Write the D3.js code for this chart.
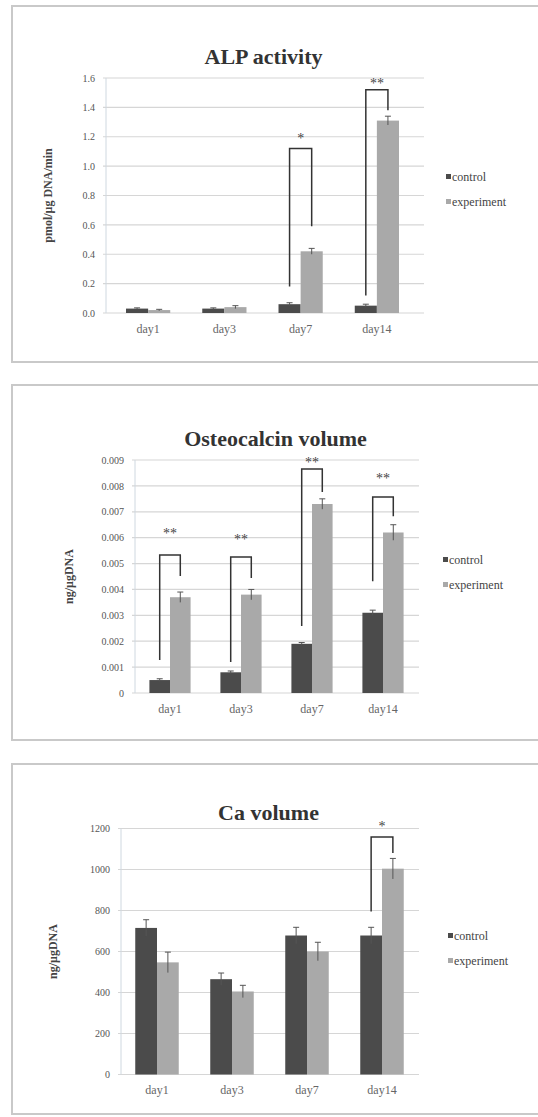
<!DOCTYPE html>
<html>
<head>
<meta charset="utf-8">
<script src="https://cdn.jsdelivr.net/npm/d3@7"></script>
<style>
  body { margin: 0; background: #fff; }
  svg { display: block; }
  text { font-family: "Liberation Serif", "DejaVu Serif", serif; }
</style>
</head>
<body>
<div id="chart"></div>
<script>
const categories = ['day1', 'day3', 'day7', 'day14'];
const series = ['control', 'experiment'];

// ALP activity
const alpControl = [0.03, 0.03, 0.06, 0.05];
const alpExperiment = [0.02, 0.04, 0.42, 1.31];
const alpControlErr = [0.005, 0.005, 0.01, 0.01];
const alpExperimentErr = [0.005, 0.01, 0.02, 0.03];
const alpTicks = [0, 0.2, 0.4, 0.6, 0.8, 1.0, 1.2, 1.4, 1.6];
const alpBrackets = [
  { cat: 'day7', left: 0.18, top: 1.12, right: 0.59, label: '*', labelAt: 1.2 },
  { cat: 'day14', left: 0.12, top: 1.52, right: 1.38, label: '**', labelAt: 1.57 }
];

// Osteocalcin volume
const ocControl = [0.0005, 0.0008, 0.0019, 0.0031];
const ocExperiment = [0.0037, 0.0038, 0.0073, 0.0062];
const ocControlErr = [0.00005, 0.00005, 0.00005, 0.0001];
const ocExperimentErr = [0.0002, 0.0002, 0.0002, 0.0003];
const ocTicks = [0, 0.001, 0.002, 0.003, 0.004, 0.005, 0.006, 0.007, 0.008, 0.009];
const ocBrackets = [
  { cat: 'day1', left: 0.00127, top: 0.00533, right: 0.00452, label: '**', labelAt: 0.0062 },
  { cat: 'day3', left: 0.0012, top: 0.00525, right: 0.00444, label: '**', labelAt: 0.006 },
  { cat: 'day7', left: 0.00259, top: 0.00865, right: 0.00776, label: '**', labelAt: 0.00895 },
  { cat: 'day14', left: 0.00432, top: 0.00757, right: 0.00683, label: '**', labelAt: 0.00835 }
];

// Ca volume
const caControl = [715, 465, 678, 678];
const caExperiment = [547, 405, 600, 1004];
const caControlErr = [40, 30, 40, 40];
const caExperimentErr = [50, 30, 45, 50];
const caTicks = [0, 200, 400, 600, 800, 1000, 1200];
const caBrackets = [
  { cat: 'day14', left: 795, top: 1159, right: 1081, label: '*', labelAt: 1215 }
];

const width = 538;
const height = 1117;
const colors = { control: '#4b4b4b', experiment: '#a9a9a9' };

const svg = d3.select('#chart')
  .append('svg')
  .attr('width', width)
  .attr('height', height);

const panels = [
  {
    title: 'ALP activity', yLabel: 'pmol/μg DNA/min',
    control: alpControl, experiment: alpExperiment,
    controlErr: alpControlErr, experimentErr: alpExperimentErr,
    ticks: alpTicks, fmt: d3.format('.1f'), brackets: alpBrackets,
    box: [6, 362], plot: { left: 103, right: 424, top: 78, bottom: 313 },
    band: [110, 415], titleY: 64, yLabelX: 48, legendX: 446, legendY: 177, catY: 334
  },
  {
    title: 'Osteocalcin volume', yLabel: 'ng/μgDNA',
    control: ocControl, experiment: ocExperiment,
    controlErr: ocControlErr, experimentErr: ocExperimentErr,
    ticks: ocTicks, fmt: d => d === 0 ? '0' : d3.format('.3f')(d), brackets: ocBrackets,
    box: [385, 740], plot: { left: 132, right: 419, top: 460, bottom: 693 },
    band: [134.5, 418.5], titleY: 446, yLabelX: 69, legendX: 443, legendY: 560, catY: 714
  },
  {
    title: 'Ca volume', yLabel: 'ng/μgDNA',
    control: caControl, experiment: caExperiment,
    controlErr: caControlErr, experimentErr: caExperimentErr,
    ticks: caTicks, fmt: d3.format('d'), brackets: caBrackets,
    box: [764, 1114], plot: { left: 118, right: 419, top: 828.5, bottom: 1074.5 },
    band: [119.5, 419.5], titleY: 820, yLabelX: 53, legendX: 448, legendY: 936, catY: 1095
  }
];

function drawPanel(p) {
  const g = svg.append('g');

  // frame around each figure
  g.append('rect')
    .attr('x', 12).attr('y', p.box[0])
    .attr('width', 540).attr('height', p.box[1] - p.box[0])
    .attr('fill', 'none')
    .attr('stroke', '#c9c9c9')
    .attr('stroke-width', 2);

  const y = d3.scaleLinear()
    .domain([0, d3.max(p.ticks)])
    .range([p.plot.bottom, p.plot.top]);

  const x = d3.scaleBand()
    .domain(categories)
    .range(p.band)
    .paddingInner(0.42)
    .paddingOuter(0.21);

  const xs = d3.scaleBand()
    .domain(series)
    .range([0, x.bandwidth()]);

  // grid
  g.append('g')
    .selectAll('line')
    .data(p.ticks)
    .join('line')
      .attr('x1', p.plot.left)
      .attr('x2', p.plot.right)
      .attr('y1', d => y(d))
      .attr('y2', d => y(d))
      .attr('stroke', '#d6d6d6')
      .attr('stroke-width', 1.2);

  g.append('line')
    .attr('x1', p.plot.left + 3).attr('x2', p.plot.left + 3)
    .attr('y1', p.plot.top).attr('y2', p.plot.bottom)
    .attr('stroke', '#cfd8e0');

  // y axis
  g.append('g')
    .attr('transform', `translate(${p.plot.left},0)`)
    .call(d3.axisLeft(y).tickValues(p.ticks).tickFormat(p.fmt).tickSize(0).tickPadding(8))
    .call(a => a.select('.domain').remove())
    .selectAll('text')
      .attr('font-size', 10)
      .attr('fill', '#555');

  // x axis
  g.append('g')
    .attr('transform', `translate(0,${p.catY - 10})`)
    .call(d3.axisBottom(x).tickSize(0).tickPadding(0))
    .call(a => a.select('.domain').remove())
    .selectAll('text')
      .attr('font-size', 12)
      .attr('fill', '#666');

  const rows = categories.map((c, i) => ({
    cat: c,
    values: [
      { key: 'control', v: p.control[i], e: p.controlErr[i] },
      { key: 'experiment', v: p.experiment[i], e: p.experimentErr[i] }
    ]
  }));

  const groups = g.append('g')
    .selectAll('g')
    .data(rows)
    .join('g')
      .attr('transform', d => `translate(${x(d.cat)},0)`);

  groups.selectAll('rect')
    .data(d => d.values)
    .join('rect')
      .attr('x', d => xs(d.key))
      .attr('y', d => y(d.v))
      .attr('width', xs.bandwidth())
      .attr('height', d => y(0) - y(d.v))
      .attr('fill', d => colors[d.key]);

  // error bars
  const eb = groups.selectAll('g.err')
    .data(d => d.values)
    .join('g')
      .attr('class', 'err')
      .attr('stroke', '#555')
      .attr('stroke-width', 1);
  eb.append('line')
    .attr('x1', d => xs(d.key) + xs.bandwidth() / 2)
    .attr('x2', d => xs(d.key) + xs.bandwidth() / 2)
    .attr('y1', d => y(d.v - d.e))
    .attr('y2', d => y(d.v + d.e));
  eb.append('line')
    .attr('x1', d => xs(d.key) + xs.bandwidth() / 2 - 3)
    .attr('x2', d => xs(d.key) + xs.bandwidth() / 2 + 3)
    .attr('y1', d => y(d.v + d.e))
    .attr('y2', d => y(d.v + d.e));

  // significance brackets
  const bk = g.append('g')
    .selectAll('g')
    .data(p.brackets)
    .join('g');
  bk.append('path')
    .attr('fill', 'none')
    .attr('stroke', '#333')
    .attr('stroke-width', 1.5)
    .attr('d', d => {
      const x0 = x(d.cat) + xs('control') + xs.bandwidth() / 2;
      const x1 = x(d.cat) + xs('experiment') + xs.bandwidth() / 2;
      return `M${x0},${y(d.left)}V${y(d.top)}H${x1}V${y(d.right)}`;
    });
  bk.append('text')
    .attr('x', d => x(d.cat) + x.bandwidth() / 2)
    .attr('y', d => y(d.labelAt) + 6)
    .attr('text-anchor', 'middle')
    .attr('font-size', 14)
    .attr('fill', '#444')
    .text(d => d.label);

  // title
  g.append('text')
    .attr('x', (p.plot.left + p.plot.right) / 2)
    .attr('y', p.titleY)
    .attr('text-anchor', 'middle')
    .attr('font-size', 22)
    .attr('font-weight', 'bold')
    .attr('fill', '#333')
    .text(p.title);

  // y label
  g.append('text')
    .attr('transform', `translate(${p.yLabelX},${(p.plot.top + p.plot.bottom) / 2}) rotate(-90)`)
    .attr('text-anchor', 'middle')
    .attr('dy', '0.35em')
    .attr('font-size', 12)
    .attr('font-weight', 'bold')
    .attr('fill', '#444')
    .text(p.yLabel);

  // legend
  const lg = g.append('g')
    .attr('transform', `translate(${p.legendX},${p.legendY})`);
  const items = lg.selectAll('g')
    .data(series)
    .join('g')
      .attr('transform', (d, i) => `translate(0,${i * 25})`);
  items.append('rect')
    .attr('x', 0).attr('y', -3)
    .attr('width', 5).attr('height', 5)
    .attr('fill', d => colors[d]);
  items.append('text')
    .attr('x', 6)
    .attr('dy', '0.35em')
    .attr('font-size', 12)
    .attr('fill', '#444')
    .text(d => d);
}

panels.forEach(drawPanel);
</script>
</body>
</html>
